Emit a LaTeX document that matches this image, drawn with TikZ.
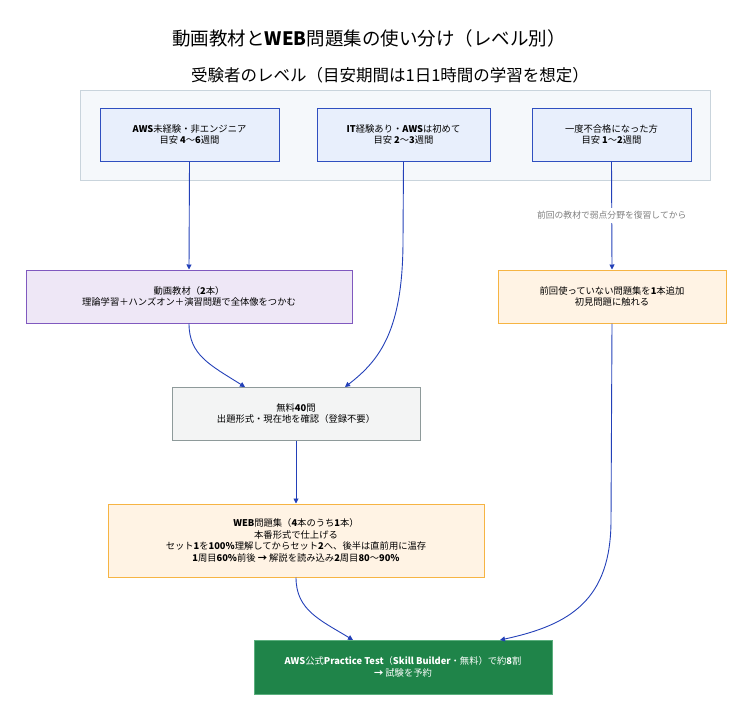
\documentclass[tikz,border=0pt]{standalone}
\usepackage{fontspec}
\setmainfont{Noto Sans CJK JP}
\usetikzlibrary{arrows.meta}
\definecolor{ln}{HTML}{2340B8}
\definecolor{bxf}{HTML}{E8EFFC}
\definecolor{bxd}{HTML}{2F4FC0}
\definecolor{grpf}{HTML}{F5F8FB}
\definecolor{grpd}{HTML}{C9D4DC}
\definecolor{puf}{HTML}{EEE7F6}
\definecolor{pud}{HTML}{8059BF}
\definecolor{orf}{HTML}{FFF3E4}
\definecolor{ord}{HTML}{F6B443}
\definecolor{gyf}{HTML}{F3F4F4}
\definecolor{gyd}{HTML}{8E9A9A}
\definecolor{gnf}{HTML}{1F8449}
\definecolor{gnd}{HTML}{5BAF7E}
\begin{document}
\begin{tikzpicture}[x=1pt,y=-1pt,
  box/.style={draw,line width=1pt,align=center,font=\fontsize{9.3}{11.5}\selectfont},
  arr/.style={draw=ln,line width=0.9pt,-{Triangle[length=5pt,width=5pt]}}]
\useasboundingbox (0,0) rectangle (752,720);
\node[font=\fontsize{18.5}{20}\selectfont] (t1) at (369,38) {動画教材と\textbf{WEB}問題集の使い分け（レベル別）};
\node[font=\fontsize{16.5}{18}\selectfont] (t2) at (390,75) {受験者のレベル（目安期間は1日1時間の学習を想定）};
\fill[grpf,draw=grpd,line width=0.8pt] (80,90) rectangle (710,180);
\node[box,fill=bxf,draw=bxd,minimum width=179pt,minimum height=53pt] (a) at (189.5,134.5) {\textbf{AWS}未経験・非エンジニア\\目安 \textbf{4}〜\textbf{6}週間};
\node[box,fill=bxf,draw=bxd,minimum width=173pt,minimum height=53pt] (b) at (403.5,134.5) {\textbf{IT}経験あり・\textbf{AWS}は初めて\\目安 \textbf{2}〜\textbf{3}週間};
\node[box,fill=bxf,draw=bxd,minimum width=159pt,minimum height=53pt] (c) at (611.5,134.5) {一度不合格になった方\\目安 \textbf{1}〜\textbf{2}週間};
\node[box,fill=puf,draw=pud,minimum width=326pt,minimum height=53pt] (v) at (189,296.5) {動画教材（\textbf{2}本）\\理論学習＋ハンズオン＋演習問題で全体像をつかむ};
\node[box,fill=orf,draw=ord,minimum width=228pt,minimum height=53pt] (o) at (612,296.5) {前回使っていない問題集を\textbf{1}本追加\\初見問題に触れる};
\node[box,fill=gyf,draw=gyd,minimum width=248pt,minimum height=53pt] (f) at (296,413.5) {無料\textbf{40}問\\出題形式・現在地を確認（登録不要）};
\node[box,fill=orf,draw=ord,minimum width=376pt,minimum height=73pt] (w) at (296,540.5) {\textbf{WEB}問題集（\textbf{4}本のうち\textbf{1}本）\\本番形式で仕上げる\\セット\textbf{1}を\textbf{100\%}理解してからセット\textbf{2}へ、後半は直前用に温存\\\textbf{1}周目\textbf{60\%}前後 \textbf{→} 解説を読み込み\textbf{2}周目\textbf{80}〜\textbf{90\%}};
\node[box,fill=gnf,draw=gnd,text=white,minimum width=298pt,minimum height=54pt] (g) at (403,667) {\textbf{AWS}公式\textbf{Practice Test}（\textbf{Skill Builder}・無料）で約\textbf{8}割\\\textbf{→} 試験を予約};
\draw[arr] (a.south) -- (v.north);
\draw[arr] (b.south) -- (403,240) .. controls (403,330) and (380,360) .. (345,387);
\draw[arr] (v.south) .. controls (189,355) and (210,365) .. (245,387);
\draw[arr] (f.south) -- (w.north);
\draw[arr] (w.south) .. controls (296,610) and (320,620) .. (353,640);
\draw[arr] (c.south) -- node[fill=white,text=gray,font=\fontsize{8.8}{10}\selectfont,pos=0.5] (lb) {前回の教材で弱点分野を復習してから} (o.north);
\draw[arr] (o.south) -- (611,520) .. controls (611,600) and (570,625) .. (500,640);
\end{tikzpicture}
\end{document}
